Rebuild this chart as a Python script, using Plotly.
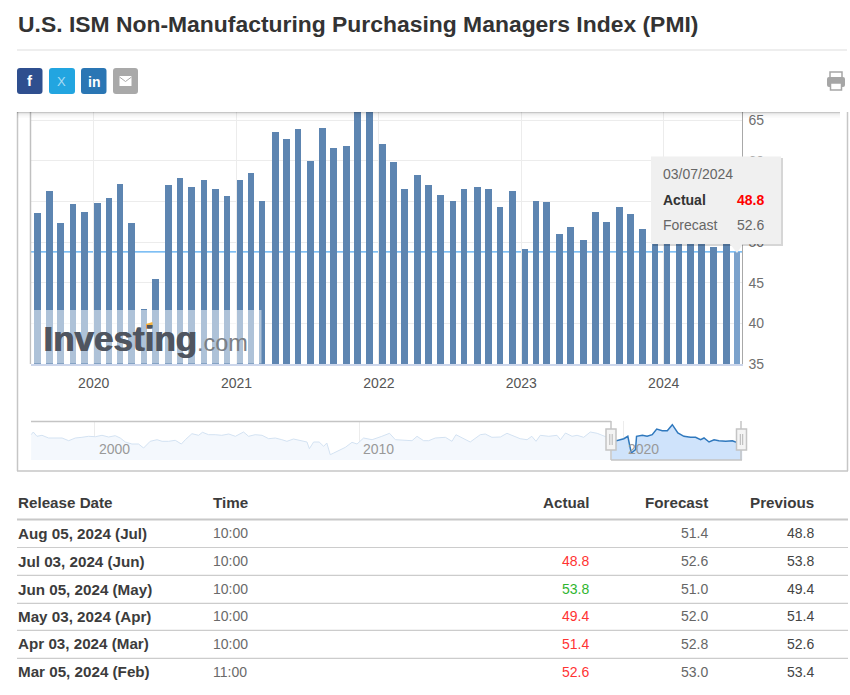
import pandas as pd
import plotly.graph_objects as go

W, H = 850, 695

# main chart, release dates and Actual readings
bar_dates = [
    "2019-08-05", "2019-09-05", "2019-10-03", "2019-11-05", "2019-12-04",
    "2020-01-07", "2020-02-05", "2020-03-04", "2020-04-03", "2020-05-05", "2020-06-03", "2020-07-06",
    "2020-08-05", "2020-09-03", "2020-10-05", "2020-11-04", "2020-12-03",
    "2021-01-06", "2021-02-03", "2021-03-03", "2021-04-06", "2021-05-05", "2021-06-03", "2021-07-06",
    "2021-08-05", "2021-09-03", "2021-10-05", "2021-11-03", "2021-12-03",
    "2022-01-06", "2022-02-03", "2022-03-03", "2022-04-05", "2022-05-04", "2022-06-03", "2022-07-06",
    "2022-08-03", "2022-09-06", "2022-10-05", "2022-11-03", "2022-12-05",
    "2023-01-06", "2023-02-03", "2023-03-03", "2023-04-05", "2023-05-03", "2023-06-05", "2023-07-06",
    "2023-08-03", "2023-09-06", "2023-10-04", "2023-11-03", "2023-12-05",
    "2024-01-05", "2024-02-05", "2024-03-05", "2024-04-03", "2024-05-03", "2024-06-05", "2024-07-03",
]
bar_values = [
    53.6, 56.3, 52.4, 54.7, 53.7,
    54.8, 55.4, 57.1, 52.4, 41.8, 45.4, 57.0,
    57.9, 56.8, 57.6, 56.5, 55.7,
    57.6, 58.5, 55.1, 63.5, 62.7, 63.9, 60.0,
    64.0, 61.6, 61.8, 66.7, 69.1,
    62.1, 59.9, 56.5, 58.2, 57.0, 55.8, 55.1,
    56.5, 56.8, 56.5, 54.3, 56.3,
    49.1, 55.1, 54.9, 51.0, 51.8, 50.2, 53.7,
    52.5, 54.3, 53.5, 51.6, 52.5,
    50.5, 53.4, 52.6, 51.4, 49.4, 53.8, 48.8,
]
year_ticks = ["2020-01-01", "2021-01-01", "2022-01-01", "2023-01-01", "2024-01-01"]
year_labels = ["2020", "2021", "2022", "2023", "2024"]
y_ticks = [35, 40, 45, 50, 55, 60, 65]

# navigator line, long history
nav_years = [
    1997.6, 1997.68, 1997.82, 1998.01, 1998.26, 1998.51, 1998.77, 1999.02, 1999.27, 1999.52, 1999.77,
    2000.03, 2000.28, 2000.53, 2000.78, 2000.97, 2001.16, 2001.41, 2001.66, 2001.85, 2002.1, 2002.36,
    2002.55, 2002.8, 2003.05, 2003.28, 2003.43, 2003.68, 2003.93, 2004.08, 2004.31, 2004.56, 2004.81,
    2005.07, 2005.32, 2005.63, 2005.82, 2006.07, 2006.33, 2006.58, 2006.83, 2007.08, 2007.27, 2007.52,
    2007.84, 2008.03, 2008.12, 2008.28, 2008.49, 2008.66, 2008.78, 2008.91, 2009.04, 2009.29, 2009.48,
    2009.73, 2009.92, 2010.17, 2010.49, 2010.86, 2011.15, 2011.37, 2011.75, 2012.0, 2012.19, 2012.44,
    2012.63, 2012.88, 2013.26, 2013.51, 2013.66, 2013.95, 2014.2, 2014.58, 2014.77, 2015.02, 2015.34,
    2015.59, 2015.84, 2016.09, 2016.35, 2016.53, 2016.69, 2016.85, 2017.17, 2017.48, 2017.61, 2017.8,
    2018.05, 2018.24, 2018.49, 2018.74, 2019.0, 2019.25, 2019.55, 2019.73, 2020.01, 2020.16, 2020.29,
    2020.45, 2020.49, 2020.71, 2020.89, 2021.08, 2021.25, 2021.46, 2021.65, 2021.84, 2022.05, 2022.28,
    2022.53, 2022.72, 2022.91, 2023.04, 2023.23, 2023.42, 2023.6, 2023.86, 2024.11, 2024.26, 2024.49,
]
nav_values = [
    58.4, 61.1, 56.8, 57.8, 55.1, 55.1, 55.1, 52.4, 55.1, 55.8, 56.8,
    56.4, 57.8, 56.1, 57.4, 55.1, 51.1, 49.1, 49.1, 45.1, 51.8, 53.4,
    51.8, 51.8, 52.8, 49.1, 53.4, 59.4, 57.8, 60.8, 58.4, 58.4, 57.8,
    59.1, 56.8, 61.1, 56.8, 58.4, 57.8, 54.4, 55.1, 53.4, 51.8, 54.1,
    52.4, 51.1, 44.4, 51.1, 51.1, 46.8, 50.1, 38.4, 40.1, 43.4, 45.8,
    50.8, 49.1, 55.1, 53.4, 56.8, 59.8, 53.4, 52.4, 52.4, 56.8, 52.4,
    52.4, 55.1, 55.8, 51.8, 58.4, 54.4, 51.1, 58.4, 59.1, 55.8, 56.1,
    59.8, 56.8, 54.4, 53.4, 56.8, 51.8, 57.8, 56.8, 57.8, 53.4, 60.1,
    56.8, 57.8, 55.8, 61.1, 59.8, 56.8, 54.0, 52.4, 54.4, 56.8, 40.1,
    43.4, 56.8, 57.8, 56.8, 58.4, 64.1, 62.4, 62.4, 68.4, 60.1, 56.8,
    55.8, 55.8, 53.4, 55.1, 51.1, 53.4, 52.4, 51.8, 52.4, 50.8, 50.8,
]
nav_labels = ["2000", "2010", "2020"]
nav_split_year = 2019.55

# table
title_text = "U.S. ISM Non-Manufacturing Purchasing Managers Index (PMI)"
table_headers = ["Release Date", "Time", "Actual", "Forecast", "Previous"]
release_dates = ["Aug 05, 2024 (Jul)", "Jul 03, 2024 (Jun)", "Jun 05, 2024 (May)",
                 "May 03, 2024 (Apr)", "Apr 03, 2024 (Mar)", "Mar 05, 2024 (Feb)"]
release_times = ["10:00", "10:00", "10:00", "10:00", "10:00", "11:00"]
actual = [None, 48.8, 53.8, 49.4, 51.4, 52.6]
forecast = [51.4, 52.6, 51.0, 52.0, 52.8, 53.0]
previous = [48.8, 53.8, 49.4, 51.4, 52.6, 53.4]

FONT = "Liberation Sans"


def px(x):
    return x / W


def py(y):
    return 1 - y / H


def year_to_date(y):
    return pd.Timestamp(int(y), 1, 1) + pd.Timedelta(days=(y % 1) * 365.25)


def rect(x0, y0, x1, y1, fill, line=None, width=1, layer="above"):
    return dict(type="rect", xref="paper", yref="paper", x0=px(x0), x1=px(x1), y0=py(y0), y1=py(y1),
                fillcolor=fill, line=dict(color=line or "rgba(0,0,0,0)", width=width if line else 0), layer=layer)


def hline(x0, x1, y, color, width=1, layer="above"):
    return dict(type="line", xref="paper", yref="paper", x0=px(x0), x1=px(x1), y0=py(y), y1=py(y),
                line=dict(color=color, width=width), layer=layer)


def vline(x, y0, y1, color, width=1, layer="above"):
    return dict(type="line", xref="paper", yref="paper", x0=px(x), x1=px(x), y0=py(y0), y1=py(y1),
                line=dict(color=color, width=width), layer=layer)


def poly(points, fill, line=None, width=1):
    path = "M " + " L ".join(f"{px(a):.5f},{py(b):.5f}" for a, b in points) + " Z"
    return dict(type="path", xref="paper", yref="paper", path=path, fillcolor=fill,
                line=dict(color=line or "rgba(0,0,0,0)", width=width if line else 0), layer="above")


def rounded(x0, y0, x1, y1, r, fill):
    path = (f"M {px(x0 + r)},{py(y0)} L {px(x1 - r)},{py(y0)} Q {px(x1)},{py(y0)} {px(x1)},{py(y0 + r)} "
            f"L {px(x1)},{py(y1 - r)} Q {px(x1)},{py(y1)} {px(x1 - r)},{py(y1)} "
            f"L {px(x0 + r)},{py(y1)} Q {px(x0)},{py(y1)} {px(x0)},{py(y1 - r)} "
            f"L {px(x0)},{py(y0 + r)} Q {px(x0)},{py(y0)} {px(x0 + r)},{py(y0)} Z")
    return dict(type="path", xref="paper", yref="paper", path=path, fillcolor=fill,
                line=dict(width=0), layer="above")


def text(x, y, s, size=14, color="#333333", anchor="left", bold=False, shadow=None):
    font = dict(family=FONT, size=size, color=color)
    if shadow:
        font["shadow"] = shadow
    return dict(xref="paper", yref="paper", x=px(x), y=py(y), text=f"<b>{s}</b>" if bold else s,
                showarrow=False, xanchor=anchor, yanchor="middle", borderpad=0, borderwidth=0, font=font)


fig = go.Figure()

bar_colors = ["#5d85b1"] * (len(bar_values) - 1) + ["#7ba2cc"]
bar_ms = 17 * 86400000
fig.add_trace(go.Bar(x=pd.to_datetime(bar_dates), y=bar_values, width=bar_ms, offset=-bar_ms / 2 + 3 * 86400000,
                     marker=dict(color=bar_colors, line=dict(width=0)), showlegend=False, xaxis="x", yaxis="y"))

nav_dates = [year_to_date(v) for v in nav_years]
split = nav_years.index(nav_split_year)
fig.add_trace(go.Scatter(x=nav_dates[:split + 1], y=nav_values[:split + 1], mode="lines", fill="tozeroy",
                         fillcolor="#f4f8fd", line=dict(color="#d3e2f2", width=1), showlegend=False,
                         xaxis="x2", yaxis="y2", hoverinfo="skip"))
fig.add_trace(go.Scatter(x=nav_dates[split:], y=nav_values[split:], mode="lines", fill="tozeroy",
                         fillcolor="#cfe3fb", line=dict(color="#2f78bd", width=1.5), showlegend=False,
                         xaxis="x2", yaxis="y2", hoverinfo="skip"))

shapes = []
annotations = []

# page head
annotations.append(text(18, 24, title_text, size=22.9, color="#333333", bold=True))
shapes.append(hline(17, 847, 50, "#e8e8e8", 1.5))

# share buttons
shapes.append(rounded(17, 68, 42.5, 94, 3, "#2f4f8f"))
shapes.append(rounded(49, 68, 75, 94, 3, "#22a5e0"))
shapes.append(rounded(81, 68, 106.5, 94, 3, "#2a76b4"))
shapes.append(rounded(113, 68, 138, 94, 3, "#a9a9a9"))
annotations.append(text(30, 81, "f", size=15, color="#ffffff", anchor="center", bold=True))
annotations.append(text(61.5, 81.5, "X", size=13, color="#a8dcf5", anchor="center"))
annotations.append(text(94, 81.5, "in", size=14, color="#ffffff", anchor="center", bold=True))
shapes.append(rect(119.5, 76, 131.5, 86, "#ffffff"))
shapes.append(dict(type="path", xref="paper", yref="paper",
                   path=f"M {px(119.5)},{py(77)} L {px(125.5)},{py(81.5)} L {px(131.5)},{py(77)}",
                   line=dict(color="#a9a9a9", width=1), layer="above"))

# printer icon
shapes.append(rect(830, 72, 842, 78, "#ffffff", "#a6a6a6", 1.5))
shapes.append(rounded(827, 77, 845, 87, 2, "#a6a6a6"))
shapes.append(rect(830.5, 83, 841.5, 90, "#ffffff", "#a6a6a6", 1.5))

# chart box
shapes.append(vline(17.5, 112, 471, "#c6c6c6", 1.5))
shapes.append(vline(847.5, 112, 471, "#c6c6c6", 1.5))
shapes.append(hline(17, 848, 471, "#c6c6c6", 1.5))

# crosshair under the bars
shapes.append(dict(type="line", xref="x domain", yref="y", x0=0, x1=1, y0=bar_values[-1], y1=bar_values[-1],
                   line=dict(color="#55aaf0", width=1.3), layer="below"))

# axis lines either side of the plot
shapes.append(vline(30.5, 112, 364, "#c0c0c0", 1.5))
shapes.append(vline(742.5, 112, 364, "#a8a8a8", 1))

# watermark
shapes.append(rect(31, 310, 261.5, 363.5, "rgba(255,255,255,0.5)"))
annotations.append(text(43, 339, "Investing", size=35, color="#4f5560", bold=True,
                        shadow="1px 0 0 #4f5560"))
annotations.append(text(197, 343, ".com", size=23.5, color="#7b7f85"))
shapes.append(poly([(146, 324), (152.5, 322), (152.5, 327), (146, 329)], "#f6b43c"))

# shadow under the top edge of the crop
for i, alpha in enumerate([0.22, 0.1, 0.06, 0.04, 0.025, 0.015]):
    shapes.append(rect(17, 112 + i, 840, 113 + i, f"rgba(0,0,0,{alpha})"))

# tooltip
shapes.append(rect(653, 158, 783, 246, "rgba(0,0,0,0.16)"))
shapes.append(rect(651, 156.5, 781, 244, "#f0f0f0"))
shapes.append(poly([(730, 244), (743, 244), (737, 253)], "#f0f0f0"))
annotations.append(text(663, 174, "03/07/2024", color="#666666"))
annotations.append(text(663, 200, "Actual", color="#333333", bold=True))
annotations.append(text(764, 200, f"{bar_values[-1]}", color="#ff0000", anchor="right", bold=True))
annotations.append(text(663, 225, "Forecast", color="#666666"))
annotations.append(text(764, 225, f"{forecast[1]}", color="#666666", anchor="right"))

# navigator frame and handles
nav_color = "#c4c4c4"
shapes.append(hline(31, 611, 421.5, nav_color, 1.5))
shapes.append(vline(611, 421, 460, nav_color, 1.5))
shapes.append(hline(611, 742, 460, nav_color, 1.5))
shapes.append(vline(741, 421, 460, nav_color, 1.5))
for hx in (611, 741.5):
    shapes.append(rect(hx - 5, 429, hx + 5, 450, "#f4f4f4", "#c4c4c4", 1.5))
    shapes.append(vline(hx - 1.2, 434, 445, "#b5b5b5", 1))
    shapes.append(vline(hx + 1.2, 434, 445, "#b5b5b5", 1))
for label in nav_labels:
    annotations.append(dict(xref="x2", yref="paper", x=f"{label}-01-01", y=py(449), text=label, showarrow=False,
                            xanchor="left", yanchor="middle", xshift=3, borderpad=0,
                            font=dict(family=FONT, size=14, color="#999999")))

# table
columns_left = [18, 212.5]
columns_right = [589, 708, 814]
header_y = 502.5
row_y = [533.3, 561.3, 589, 616, 643.8, 671.8]
rule_y = [547.5, 575.3, 603.3, 630.4, 658.3]
for col, x in enumerate(columns_left):
    annotations.append(text(x, header_y, table_headers[col], size=15.2, color="#3c3c3c", bold=True))
for col, x in enumerate(columns_right):
    annotations.append(text(x, header_y, table_headers[col + 2], size=15.2, color="#3c3c3c", anchor="right", bold=True))
shapes.append(hline(17, 848, 519.5, "#c8c8c8", 2))
for y in rule_y:
    shapes.append(hline(17, 848, y, "#cccccc", 1.2))
for i, y in enumerate(row_y):
    annotations.append(text(columns_left[0], y, release_dates[i], size=15.2, color="#3c3c3c", bold=True))
    annotations.append(text(columns_left[1], y, release_times[i], color="#6a6a6a"))
    if actual[i] is not None:
        col_color = "#ff3333" if actual[i] < forecast[i] else "#2fb52f"
        annotations.append(text(columns_right[0], y, f"{actual[i]:.1f}", color=col_color, anchor="right"))
    annotations.append(text(columns_right[1], y, f"{forecast[i]:.1f}", color="#666666", anchor="right"))
    annotations.append(text(columns_right[2], y, f"{previous[i]:.1f}", color="#444444", anchor="right"))

fig.update_layout(
    width=W, height=H,
    margin=dict(l=0, r=0, t=0, b=0),
    paper_bgcolor="#ffffff", plot_bgcolor="#ffffff",
    font=dict(family=FONT, size=14, color="#666666"),
    showlegend=False, bargap=0,
    shapes=shapes, annotations=annotations,
    xaxis=dict(domain=[px(30.5), px(742.5)], type="date", range=["2019-07-23", "2024-07-21"], automargin=False,
               tickvals=year_ticks, ticktext=year_labels, showgrid=True, gridcolor="#ececec", gridwidth=1,
               ticks="", showline=True, linecolor="#ccd6eb", linewidth=1.5, anchor="y", ticklabelstandoff=5,
               tickfont=dict(family=FONT, size=14, color="#555555"), fixedrange=True),
    yaxis=dict(domain=[py(364), py(112)], range=[35, 66], side="right", tickvals=y_ticks, showgrid=True,
               gridcolor="#ececec", gridwidth=1, zeroline=False, ticks="", anchor="x", ticklabelstandoff=5,
               automargin=False, tickfont=dict(family=FONT, size=14, color="#6f6f6f"), fixedrange=True),
    xaxis2=dict(domain=[px(30.5), px(742.5)], type="date", range=["1997-07-30", "2024-06-30"], automargin=False,
                tickvals=[f"{v}-01-01" for v in nav_labels], showticklabels=False, showgrid=True,
                gridcolor="#ececec", ticks="", anchor="y2", fixedrange=True),
    yaxis2=dict(domain=[py(460), py(421)], range=[33.1, 72.1], showgrid=False, zeroline=False, automargin=False,
                showticklabels=False, ticks="", anchor="x2", fixedrange=True),
)

fig.write_html("out.html", config=dict(displayModeBar=False),
               post_script="document.body.style.margin='0';document.body.style.overflow='hidden';")
